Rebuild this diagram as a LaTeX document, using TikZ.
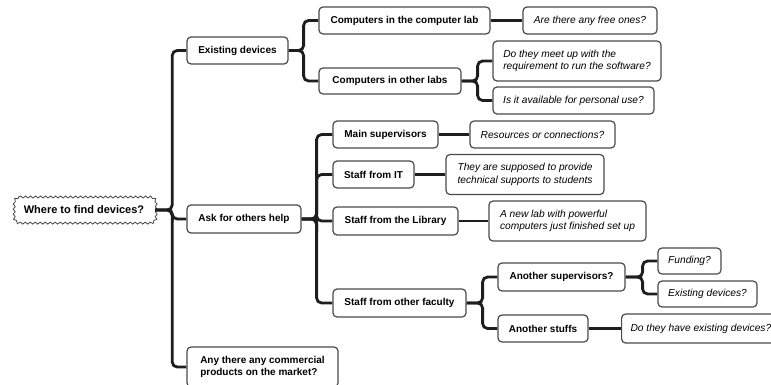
\documentclass[tikz,border=0pt]{standalone}
\usepackage{fontspec}
\setmainfont{Liberation Sans}
\usetikzlibrary{decorations.pathmorphing,backgrounds}
\definecolor{lineblk}{HTML}{1E1E1E}
\definecolor{boxedge}{HTML}{4A4A4A}
\tikzset{
  bbox/.style={draw=boxedge, line width=1.2pt, rounded corners=4pt, fill=white,
    inner xsep=0pt, inner ysep=0pt, font=\fontsize{10}{12.5}\selectfont\bfseries, align=left},
  qbox/.style={bbox, font=\fontsize{10.2}{12.6}\selectfont\itshape},
  roottext/.style={inner sep=0pt, font=\fontsize{11}{13}\selectfont\bfseries},
  cloud edge/.style={draw=boxedge, line width=0.8pt, fill=white,
    decorate, decoration={snake, segment length=5pt, amplitude=1pt}},
  conn/.style={draw=lineblk, line width=2.8pt, rounded corners=5pt}
}
\begin{document}
\begin{tikzpicture}[x=1pt,y=-1pt]
\useasboundingbox (0,0) rectangle (771,385);
\node[roottext, minimum width=142, minimum height=26] (root) at (84,210) {Where to find devices?};

\node[bbox, minimum width=101, minimum height=27] (exist) at (237.5,50.5) {Existing devices};
\node[bbox, minimum width=171, minimum height=27] (complab) at (404.5,20.5) {Computers in the computer lab};
\node[bbox, minimum width=142, minimum height=26] (otherlabs) at (390,81) {Computers in other labs};
\node[qbox, minimum width=134, minimum height=27] (free) at (590,20.5) {Are there any free ones?};
\node[qbox, minimum width=168, minimum height=40] (meet) at (577,61) {Do they meet up with the\\requirement to run the software?};
\node[qbox, minimum width=161, minimum height=27] (avail) at (573.5,100.5) {Is it available for personal use?};

\node[bbox, minimum width=114, minimum height=28] (ask) at (244,219) {Ask for others help};
\node[bbox, minimum width=105, minimum height=27] (mainsup) at (385.5,134.5) {Main supervisors};
\node[bbox, minimum width=81, minimum height=27] (it) at (373.5,174.5) {Staff from IT};
\node[bbox, minimum width=125, minimum height=28] (lib) at (395.5,221) {Staff from the Library};
\node[bbox, minimum width=133, minimum height=28] (faculty) at (399.5,303) {Staff from other faculty};
\node[qbox, minimum width=145, minimum height=27] (res) at (542.5,134.5) {Resources or connections?};
\node[qbox, minimum width=158, minimum height=40] (supposed) at (525,174.5) {They are supposed to provide\\technical supports to students};
\node[qbox, minimum width=157, minimum height=40] (newlab) at (567.5,221) {A new lab with powerful\\computers just finished set up};
\node[bbox, minimum width=127, minimum height=28] (anosup) at (561.5,277) {Another supervisors?};
\node[bbox, minimum width=90, minimum height=27] (anostuff) at (543,328.5) {Another stuffs};
\node[qbox, minimum width=63, minimum height=26] (funding) at (689.5,261) {Funding?};
\node[qbox, minimum width=99, minimum height=26] (existq) at (707.5,294) {Existing devices?};
\node[qbox, anchor=west, inner xsep=9pt, minimum height=29] (dothey) at (621,328.5) {Do they have existing devices?};

\node[bbox, minimum width=151, minimum height=40] (market) at (262.5,367) {Any there any commercial\\products on the market?};

\begin{scope}[on background layer]
\path[cloud edge] (19,197) -- (149,197) .. controls (152.3,197) and (155,199.7) .. (155,203)
  -- (155,217) .. controls (155,220.3) and (152.3,223) .. (149,223)
  -- (19,223) .. controls (15.7,223) and (13,220.3) .. (13,217)
  -- (13,203) .. controls (13,199.7) and (15.7,197) .. (19,197) -- cycle;

\draw[conn] (root.east) -- ++(17,0) |- (exist.west);
\draw[conn] (root.east) -- ++(17,0) |- (ask.west);
\draw[conn] (root.east) -- ++(17,0) |- (market.west);

\draw[conn] (exist.east) -- ++(15,0) |- (complab.west);
\draw[conn] (exist.east) -- ++(15,0) |- (otherlabs.west);
\draw[conn] (complab.east) -- (free.west);
\draw[conn] (otherlabs.east) -- ++(16,0) |- (meet.west);
\draw[conn] (otherlabs.east) -- ++(16,0) |- (avail.west);

\draw[conn] (ask.east) -- ++(15,0) |- (mainsup.west);
\draw[conn] (ask.east) -- ++(15,0) |- (it.west);
\draw[conn] (ask.east) -- ++(15,0) |- (lib.west);
\draw[conn] (ask.east) -- ++(15,0) |- (faculty.west);
\draw[conn] (mainsup.east) -- (res.west);
\draw[conn] (it.east) -- (supposed.west);
\draw[conn] (lib.east) -- (newlab.west);

\draw[conn] (faculty.east) -- ++(16,0) |- (anosup.west);
\draw[conn] (faculty.east) -- ++(16,0) |- (anostuff.west);
\draw[conn] (anosup.east) -- ++(17,0) |- (funding.west);
\draw[conn] (anosup.east) -- ++(17,0) |- (existq.west);
\draw[conn] (anostuff.east) -- (dothey.west);
\end{scope}
\end{tikzpicture}
\end{document}
